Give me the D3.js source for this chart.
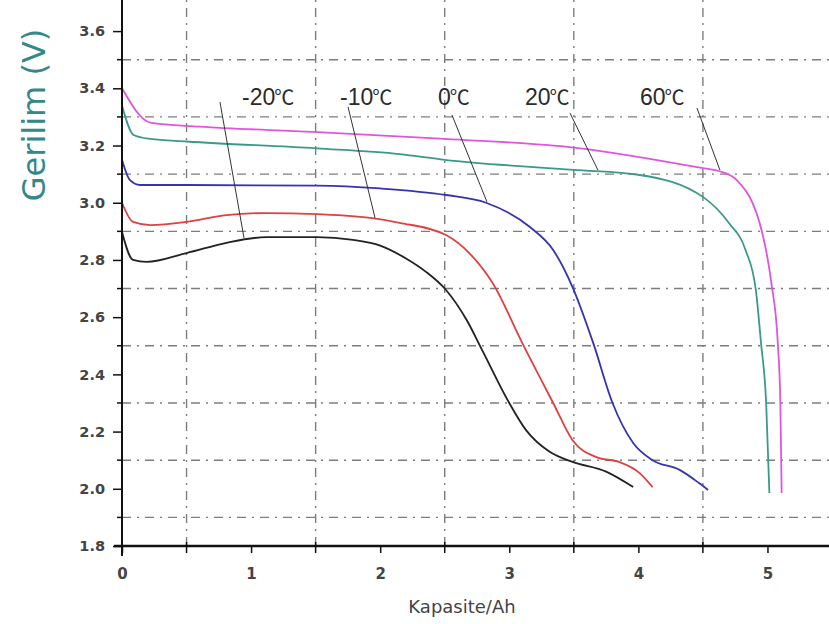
<!DOCTYPE html>
<html>
<head>
<meta charset="utf-8">
<script src="https://cdn.jsdelivr.net/npm/d3@7/dist/d3.min.js"></script>
<style>
  html,body{margin:0;padding:0;background:#fff;}
  svg{display:block;}
</style>
</head>
<body>
<svg id="chart" width="829" height="624"></svg>
<script>
// ---- data ----
const xTicks = [0, 1, 2, 3, 4, 5];
const yTicks = [1.8, 2.0, 2.2, 2.4, 2.6, 2.8, 3.0, 3.2, 3.4, 3.6];
const xGrid = [0.5, 1.5, 2.5, 3.5, 4.5];
const yGrid = [1.9, 2.1, 2.3, 2.5, 2.7, 2.9, 3.1, 3.3, 3.5];

const seriesNames = ["-20", "-10", "0", "20", "60"];
const unitSymbol = "℃";

const capM20 = [0, 0.085, 0.19, 0.5, 0.81, 1.12, 1.51, 1.79, 2.0, 2.2, 2.35, 2.51, 2.67, 2.79, 3.0, 3.13, 3.31, 3.49, 3.75, 3.96];
const voltM20 = [2.898, 2.80, 2.793, 2.824, 2.86, 2.88, 2.88, 2.87, 2.85, 2.805, 2.76, 2.695, 2.59, 2.485, 2.30, 2.205, 2.13, 2.094, 2.06, 2.006];

const capM10 = [0, 0.085, 0.22, 0.5, 0.81, 1.12, 1.51, 1.94, 2.15, 2.51, 2.69, 2.87, 3.10, 3.34, 3.49, 3.68, 3.85, 4.01, 4.11];
const voltM10 = [3.0, 2.933, 2.922, 2.933, 2.957, 2.964, 2.96, 2.946, 2.93, 2.887, 2.824, 2.72, 2.51, 2.30, 2.17, 2.11, 2.094, 2.055, 2.006];

const cap0 = [0, 0.06, 0.14, 0.5, 1.51, 2.0, 2.51, 2.82, 3.16, 3.34, 3.49, 3.65, 3.80, 3.96, 4.11, 4.32, 4.47, 4.54];
const volt0 = [3.15, 3.08, 3.062, 3.062, 3.06, 3.05, 3.027, 3.0, 2.915, 2.835, 2.705, 2.51, 2.30, 2.16, 2.10, 2.066, 2.02, 1.996];

const cap20 = [0, 0.09, 0.22, 0.5, 1.51, 2.15, 2.5, 3.5, 4.01, 4.51, 4.70, 4.83, 4.91, 4.95, 4.99, 5.015];
const volt20 = [3.34, 3.237, 3.223, 3.214, 3.19, 3.17, 3.15, 3.115, 3.097, 3.017, 2.93, 2.835, 2.695, 2.51, 2.30, 1.985];

const cap60 = [0, 0.22, 0.6, 1.48, 2.5, 3.5, 4.51, 4.63, 4.76, 4.96, 5.03, 5.08, 5.10, 5.11];
const volt60 = [3.40, 3.28, 3.266, 3.248, 3.223, 3.193, 3.12, 3.11, 3.08, 2.894, 2.72, 2.51, 2.30, 1.985];

const seriesColors = ["#222222", "#e0403f", "#3434b0", "#3a9a8a", "#de55de"];

// leader line endpoints in data units (label -> curve point)
const leaderFrom = [[0.759, 3.352], [1.751, 3.335], [2.556, 3.307], [3.470, 3.314], [4.454, 3.331]];
const leaderTo   = [[0.945, 2.877], [1.960, 2.947], [2.827, 3.003], [3.687, 3.114], [4.632, 3.114]];
const labelPos   = [[0.93, 3.343], [1.689, 3.343], [2.448, 3.343], [3.122, 3.343], [4.012, 3.343]];

// ---- layout ----
const svg = d3.select("#chart");
const x = d3.scaleLinear().domain([0, 5.5]).range([122, 832]);
const y = d3.scaleLinear().domain([1.8, 3.7]).range([546, 2.5]);

const gridColor = "#7d7d7d";
const dash = "9,6,2,6";

// grid
svg.append("g").selectAll("line").data(xGrid).join("line")
  .attr("x1", d => x(d)).attr("x2", d => x(d))
  .attr("y1", y(1.8)).attr("y2", 0)
  .attr("stroke", gridColor).attr("stroke-width", 1.4).attr("stroke-dasharray", dash);
svg.append("g").selectAll("line").data(yGrid).join("line")
  .attr("x1", x(0)).attr("x2", 829)
  .attr("y1", d => y(d)).attr("y2", d => y(d))
  .attr("stroke", gridColor).attr("stroke-width", 1.4).attr("stroke-dasharray", dash);

// curves
const caps = [capM20, capM10, cap0, cap20, cap60];
const volts = [voltM20, voltM10, volt0, volt20, volt60];
const line = d3.line().x(d => x(d[0])).y(d => y(d[1])).curve(d3.curveMonotoneX);
seriesNames.forEach((name, i) => {
  const pts = caps[i].map((c, j) => [c, volts[i][j]]);
  svg.append("path").datum(pts)
    .attr("d", line)
    .attr("fill", "none")
    .attr("stroke", seriesColors[i])
    .attr("stroke-width", 1.8)
    .attr("stroke-linejoin", "round");
});

// leader lines and labels
seriesNames.forEach((name, i) => {
  svg.append("line")
    .attr("x1", x(leaderFrom[i][0])).attr("y1", y(leaderFrom[i][1]))
    .attr("x2", x(leaderTo[i][0])).attr("y2", y(leaderTo[i][1]))
    .attr("stroke", "#333").attr("stroke-width", 1);
  const t = svg.append("text")
    .attr("x", x(labelPos[i][0])).attr("y", y(labelPos[i][1]))
    .attr("font-family", "Liberation Sans, Arial, sans-serif")
    .attr("font-size", 23)
    .attr("fill", "#2a2a2a");
  t.append("tspan").text(name);
  t.append("tspan")
    .attr("font-family", "Noto Sans CJK SC, sans-serif")
    .attr("font-size", 20)
    .attr("dx", -1)
    .text(unitSymbol);
});

// axes
const tickFont = "DejaVu Sans, Verdana, sans-serif";
const xAxis = d3.axisBottom(x).tickValues(xTicks).tickSize(7).tickPadding(15).tickFormat(d3.format("d"));
const gx = svg.append("g").attr("transform", `translate(0,${y(1.8)})`).call(xAxis);
gx.select(".domain").remove();
gx.append("line").attr("x1", x(0) - 8).attr("x2", 829).attr("stroke", "#111").attr("stroke-width", 2.4);
// half ticks
gx.selectAll(".half").data(xGrid).join("line").attr("class", "half")
  .attr("x1", d => x(d)).attr("x2", d => x(d)).attr("y1", -4).attr("y2", 7)
  .attr("stroke", "#111").attr("stroke-width", 1.5);
gx.selectAll(".tick line").attr("stroke", "#111").attr("stroke-width", 1.5);
gx.selectAll(".tick text")
  .attr("font-family", tickFont)
  .attr("font-size", 15).attr("font-weight", "bold").attr("fill", "#444");

const yAxis = d3.axisLeft(y).tickValues(yTicks).tickSize(9).tickPadding(8).tickFormat(d3.format(".1f"));
const gy = svg.append("g").attr("transform", `translate(${x(0)},0)`).call(yAxis);
gy.select(".domain").remove();
gy.append("line").attr("y1", 0).attr("y2", y(1.8) + 10).attr("stroke", "#111").attr("stroke-width", 2);
gy.selectAll(".minor").data(yGrid).join("line").attr("class", "minor")
  .attr("x1", -5).attr("x2", 0).attr("y1", d => y(d)).attr("y2", d => y(d))
  .attr("stroke", "#111").attr("stroke-width", 1.5);
gy.selectAll(".tick line").attr("stroke", "#111").attr("stroke-width", 1.5);
gy.selectAll(".tick text")
  .attr("font-family", tickFont)
  .attr("font-size", 14.5).attr("font-weight", "bold").attr("fill", "#444");

// axis titles
svg.append("text")
  .attr("transform", "translate(45,115) rotate(-90)")
  .attr("text-anchor", "middle")
  .attr("font-family", "DejaVu Sans, Verdana, sans-serif")
  .attr("font-size", 32)
  .attr("fill", "#338888")
  .text("Gerilim (V)");

svg.append("text")
  .attr("x", 462).attr("y", 613)
  .attr("text-anchor", "middle")
  .attr("font-family", "DejaVu Sans, Verdana, sans-serif")
  .attr("font-size", 18)
  .attr("fill", "#444")
  .text("Kapasite/Ah");
</script>
</body>
</html>
